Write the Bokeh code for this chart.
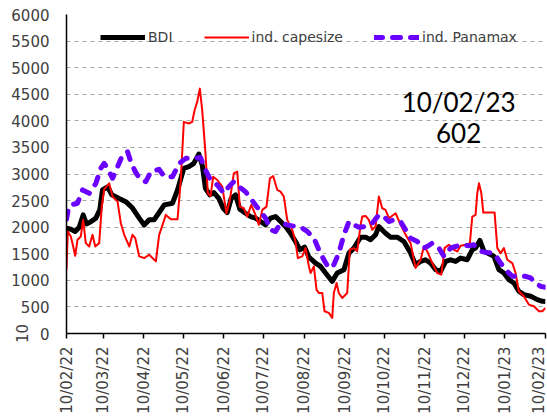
import math
import pandas as pd
from bokeh.plotting import figure
from bokeh.models import (Range1d, FixedTicker, Legend, LegendItem, Label,
                          DatetimeTickFormatter)
from bokeh.embed import file_html
from bokeh.resources import INLINE

# ---------------- data (days since 10/02/22) ----------------
start_date = "2022-02-10"
end_date = "2023-02-10"
tick_labels = ["10/02/22", "10/03/22", "10/04/22", "10/05/22", "10/06/22", "10/07/22",
               "10/08/22", "10/09/22", "10/10/22", "10/11/22", "10/12/22", "10/01/23",
               "10/02/23"]

bdi_days = [0, 3.3, 6.6, 9.7, 12.7, 15.2, 18.5, 22.4, 25.4, 27.4,
            31.3, 34.5, 40.1, 45.2, 50.3, 55.4, 59.2, 63, 66.8, 70.6,
            74.5, 80.8, 84.6, 89.4, 93.2, 97, 100.8, 103.4, 105.9, 109.2,
            112.3, 116.1, 119.4, 122.5, 125.5, 128.8, 132.1, 136.4, 140.2, 144,
            147.9, 151.7, 155.5, 159.3, 163.1, 166.9, 170.7, 174.5, 177.8, 181.4,
            184.7, 189.8, 193.6, 197.4, 202.5, 206.3, 211.4, 215.2, 219, 224.1,
            227.9, 231.7, 235.5, 238, 243.1, 247, 252, 257.1, 262.2, 266,
            269.8, 273.6, 277.4, 281.3, 285.1, 288.9, 292.7, 296.5, 300.3, 305.4,
            309.2, 311.7, 315, 318.1, 321.9, 325.7, 329.5, 333.3, 337.1, 340.9,
            344.7, 348.5, 353.7, 358.8, 362.6, 365]
bdi_vals = [1980, 1960, 1920, 2000, 2230, 2060, 2100, 2170, 2330, 2700,
            2760, 2610, 2540, 2480, 2360, 2170, 2040, 2140, 2140, 2275,
            2420, 2450, 2700, 3106, 3137, 3200, 3375, 3170, 2730, 2606,
            2650, 2540, 2356, 2275, 2540, 2606, 2337, 2262, 2200, 2170,
            2106, 2044, 2170, 2200, 2106, 2012, 1887, 1730, 1575, 1625,
            1437, 1325, 1262, 1137, 980, 1137, 1200, 1512, 1606, 1812,
            1812, 1762, 1856, 2012, 1887, 1812, 1812, 1730, 1512, 1294,
            1356, 1387, 1325, 1200, 1170, 1356, 1387, 1356, 1419, 1387,
            1575, 1606, 1750, 1544, 1500, 1450, 1200, 1137, 1012, 950,
            794, 731, 700, 637, 606, 602]

cape_days = [0, 1, 3.3, 5.1, 6.6, 8.4, 10.9, 12.7, 14.7, 17.3,
             19.8, 21.9, 24.9, 26.9, 28.7, 32.5, 35.1, 38.9, 41.4, 44,
             47.8, 50.3, 52.4, 55.4, 59.2, 63, 68.1, 70.6, 73.2, 75.7,
             79.5, 84.6, 87.1, 89.4, 93.2, 95.8, 97.6, 99.6, 101.6, 103.4,
             105.9, 107.7, 109.8, 111.8, 114.9, 118.7, 121.9, 124.5, 127.5, 130.1,
             132.1, 135.1, 137.7, 140.8, 144, 146.6, 149.2, 152.4, 155, 157.5,
             160.6, 163.1, 165.6, 168.2, 172, 174.5, 176.3, 179.6, 182.2, 184.7,
             186, 188.5, 190.5, 192.3, 194.9, 196.6, 199.9, 202.5, 203.7, 205.8,
             207.5, 210.1, 213.9, 215.9, 219, 221.5, 224.1, 225.4, 227.9, 230.4,
             233, 235.5, 238, 240.6, 243.1, 245.7, 250.8, 254.6, 258.4, 262.2,
             266, 269.8, 272.4, 274.9, 278.7, 282.5, 285.6, 288.1, 291.4, 295.2,
             297.8, 300.3, 304.1, 307.4, 309.2, 311.7, 313, 314.3, 316.1, 317.6,
             321.9, 326.2, 328.3, 330.8, 333.3, 335.9, 339.7, 342.2, 344.7, 348.5,
             352.3, 356.2, 360, 362.6, 365]
cape_vals = [1200, 1920, 1825, 1637, 1462, 1762, 1825, 2137, 1700, 1637,
             1856, 1637, 1700, 2387, 2712, 2825, 2575, 2480, 2075, 1856,
             1637, 1856, 1793, 1450, 1419, 1481, 1356, 1856, 2044, 2231,
             2150, 2150, 2887, 3981, 3950, 3981, 4200, 4356, 4606, 4200,
             3387, 2637, 2587, 2950, 2887, 2762, 2262, 2512, 3012, 3044,
             2387, 2356, 2200, 2418, 2231, 2044, 2325, 2387, 2918, 2962,
             2700, 2668, 2575, 2137, 1950, 1730, 1418, 1450, 1606, 1262,
             1137, 1262, 825, 762, 762, 419, 387, 294, 762, 950,
             762, 669, 762, 1575, 1606, 1544, 2044, 2200, 2212, 2137,
             1950, 2012, 2575, 2356, 2325, 2169, 2262, 2044, 1856, 1700,
             1231, 1387, 1637, 1544, 1325, 1137, 1106, 1606, 1669, 1575,
             1544, 1650, 1669, 1700, 2200, 2231, 2637, 2825, 2637, 2275,
             2275, 2275, 1606, 1512, 1606, 1387, 1325, 1137, 794, 700,
             544, 512, 419, 419, 481]

pmx_days = [0, 1.5, 3.3, 8.4, 12.2, 17.3, 22.4, 26.1, 28.7, 31.3,
            35.1, 38.9, 42.7, 46.5, 49, 52.4, 56.6, 60.4, 64.3, 70.6,
            74.5, 80.8, 85.9, 90.9, 97, 102.1, 105.9, 109.8, 114.9, 119.9,
            123.7, 127.5, 131.3, 136.4, 140.2, 144, 147.9, 151.7, 155.5, 159.3,
            163.1, 168.2, 174.5, 179.6, 183.5, 188.5, 192.3, 196.1, 199.9, 203.7,
            207.5, 211.4, 215.2, 219, 222.8, 227.9, 233, 238, 241.8, 245.7,
            249.5, 254.6, 258.4, 262.2, 267.3, 272.3, 274.9, 278.7, 283.8, 287.6,
            292.7, 296.5, 301.6, 306.6, 310.4, 315.5, 320.6, 325.7, 330.8, 334.6,
            339.7, 344.7, 349.8, 353.7, 357.5, 361.3, 365]
pmx_vals = [2150, 2350, 2419, 2450, 2700, 2637, 2825, 3106, 3200, 3106,
            2920, 3137, 3356, 3419, 3231, 3044, 2887, 2856, 3044, 3087,
            2950, 2950, 3200, 3294, 3294, 3312, 3075, 2887, 2793, 2637,
            2762, 2856, 2762, 2668, 2543, 2418, 2293, 2169, 1950, 1918,
            2075, 2044, 2012, 1981, 1919, 1794, 1575, 1387, 1231, 1294,
            1512, 1856, 2106, 2044, 2000, 2012, 2075, 2231, 2200, 2106,
            2137, 2106, 1950, 1794, 1730, 1606, 1637, 1700, 1606, 1450,
            1606, 1637, 1669, 1650, 1669, 1544, 1525, 1512, 1325, 1200,
            1075, 1075, 1075, 1044, 950, 887, 869]

series_names = ["BDI", "ind. capesize", "ind. Panamax"]
note_date = "10/02/23"
note_value = "602"
note_day = 298.8
note_y = [4346, 3763]
corner_text = "10"

# ---------------- helpers ----------------
start = pd.Timestamp(start_date)


def to_dates(days):
    return start + pd.to_timedelta(days, unit="D")


def to_ms(ts):
    return ts.value / 1e6


TICK_FONT = "DejaVu Sans"
TXT = "#404040"

p = figure(frame_width=479, frame_height=319, x_axis_type="datetime",
           x_range=Range1d(start.to_pydatetime(), pd.Timestamp(end_date).to_pydatetime()),
           y_range=Range1d(0, 6000),
           output_backend="svg", toolbar_location=None,
           min_border_left=66, min_border_right=2, min_border_top=14, min_border_bottom=86)
p.outline_line_color = None
p.background_fill_color = "white"

# grid
p.xgrid.visible = False
p.ygrid.grid_line_color = "#A6A6A6"
p.ygrid.grid_line_dash = "4 4"
p.ygrid.grid_line_width = 1

# y axis
p.yaxis.ticker = FixedTicker(ticks=list(range(0, 6001, 500)))
p.yaxis.major_tick_out = 0
p.yaxis.major_tick_in = 0
p.yaxis.minor_tick_out = 0
p.yaxis.minor_tick_in = 0
p.yaxis.major_label_standoff = 17
p.yaxis.axis_line_color = "black"
p.yaxis.axis_line_width = 1.5

# the stray rotated "10" at the bottom-left, drawn as the y axis label
p.yaxis.axis_label = corner_text
p.yaxis.axis_label_standoff = -20
p.yaxis.axis_label_align = "start"
p.yaxis.axis_label_text_align = "right"
p.yaxis.axis_label_text_font = TICK_FONT
p.yaxis.axis_label_text_font_size = "15px"
p.yaxis.axis_label_text_font_style = "normal"
p.yaxis.axis_label_text_color = TXT

# x axis
tick_dates = pd.to_datetime(tick_labels, format="%d/%m/%y")
p.xaxis.ticker = FixedTicker(ticks=[to_ms(t) for t in tick_dates])
fmt = "%d/%m/%y"
p.xaxis.formatter = DatetimeTickFormatter(days=fmt, months=fmt, years=fmt, hours=fmt,
                                          minutes=fmt, seconds=fmt, milliseconds=fmt,
                                          microseconds=fmt, minsec=fmt, hourmin=fmt)
p.xaxis.major_label_orientation = math.pi / 2
p.xaxis.major_tick_out = 5
p.xaxis.major_tick_in = 0
p.xaxis.minor_tick_out = 0
p.xaxis.minor_tick_in = 0
p.xaxis.major_label_standoff = 8
p.xaxis.axis_line_color = "black"
p.xaxis.axis_line_width = 1.5

for ax in (p.xaxis, p.yaxis):
    ax.major_label_text_font = TICK_FONT
    ax.major_label_text_font_size = "15px"
    ax.major_label_text_color = TXT
    ax.major_tick_line_color = "black"
    ax.major_tick_line_width = 1.5

# series (Excel order: later drawn on top)
r_bdi = p.line(to_dates(bdi_days), bdi_vals, line_color="black", line_width=5,
               line_join="round")
r_cape = p.line(to_dates(cape_days), cape_vals, line_color="#FF0000", line_width=2,
                line_join="round")
r_pmx = p.line(to_dates(pmx_days), pmx_vals, line_color="#6A00FF", line_width=5,
               line_dash="8 10", line_cap="round", line_join="round")

legend = Legend(items=[LegendItem(label=series_names[0], renderers=[r_bdi]),
                       LegendItem(label=series_names[1], renderers=[r_cape]),
                       LegendItem(label=series_names[2], renderers=[r_pmx])],
                orientation="horizontal", location=(34, 286),
                glyph_width=45, glyph_height=20, label_standoff=3, spacing=31,
                padding=0, margin=0,
                background_fill_alpha=0, border_line_color=None,
                label_text_font="DejaVu Sans", label_text_font_size="14px",
                label_text_color=TXT, label_height=20)
p.add_layout(legend)

# annotation
for txt, yv in zip([note_date, note_value], note_y):
    p.add_layout(Label(x=to_ms(to_dates(note_day)), y=yv, text=txt,
                       text_align="center", text_baseline="middle",
                       text_font="Lato", text_font_size="26px", text_color="black"))

open("out.html", "w").write(file_html(p, INLINE))
